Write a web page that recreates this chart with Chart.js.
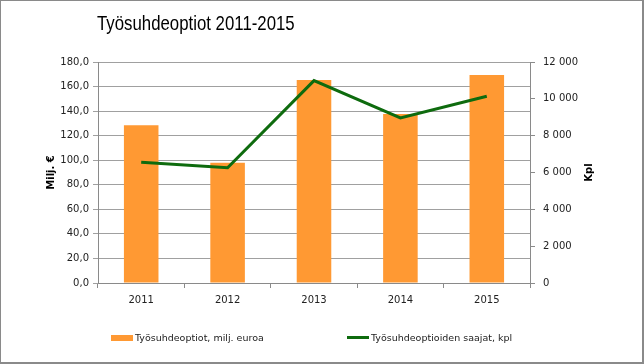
<!DOCTYPE html>
<html><head><meta charset="utf-8">
<script src="https://cdn.jsdelivr.net/npm/chart.js@4"></script>
<style>
html,body{margin:0;padding:0;background:#fff;}
#wrap{position:relative;width:644px;height:364px;overflow:hidden;}
#frame{position:absolute;left:0;top:0;width:644px;height:364px;box-sizing:border-box;border:1px solid #8a8a8a;border-right-width:2px;border-bottom-width:2px;pointer-events:none;}
#title{position:absolute;left:97px;top:11px;font-family:"Liberation Sans",sans-serif;font-size:21px;color:#000;white-space:nowrap;transform:scaleX(0.8);transform-origin:0 0;}
#legend{position:absolute;left:0;top:332px;width:644px;height:14px;font-family:"DejaVu Sans",sans-serif;font-size:9.5px;color:#222;}
.li{position:absolute;top:0;display:flex;align-items:center;white-space:nowrap;}
.sw{display:inline-block;width:22px;margin-right:2px;}
</style></head>
<body>
<div id="wrap">
<canvas id="c" width="644" height="364"></canvas>
<div id="title"></div>
<div id="legend"></div>
<div id="frame"></div>
</div>
<script>
const titleText = "Työsuhdeoptiot 2011-2015";
const categories = ["2011","2012","2013","2014","2015"];
const optionValues = [128.4, 98.0, 165.3, 137.6, 169.4];
const recipients = [6550, 6260, 10990, 8960, 10140];
const seriesNames = ["Työsuhdeoptiot, milj. euroa","Työsuhdeoptioiden saajat, kpl"];
const axisTitles = ["Milj. €","Kpl"];
const barColor = "#FF9933";
const lineColor = "#0E6B0E";

document.getElementById('title').textContent = titleText;

const axisTitlePlugin = {
  id:'axisTitles',
  afterDraw(chart){
    const ctx = chart.ctx, ca = chart.chartArea;
    ctx.save();
    ctx.font = 'bold 10px "DejaVu Sans", sans-serif';
    ctx.fillStyle = '#000';
    ctx.textAlign = 'center';
    ctx.textBaseline = 'middle';
    const cy = (ca.top + ca.bottom)/2;
    [[ca.left - 47, axisTitles[0]],[ca.right + 59, axisTitles[1]]].forEach(([x,t])=>{
      ctx.save(); ctx.translate(x, cy); ctx.rotate(-Math.PI/2); ctx.fillText(t,0,0); ctx.restore();
    });
    ctx.restore();
  }
};

const tickFont = {family:'"DejaVu Sans", sans-serif', size:10};
const chart = new Chart(document.getElementById('c'), {
  data:{
    labels: categories,
    datasets:[
      {type:'bar', label:seriesNames[0], data:optionValues, backgroundColor:barColor, borderWidth:0,
       yAxisID:'y', order:2, categoryPercentage:1, barPercentage:0.4},
      {type:'line', label:seriesNames[1], data:recipients, borderColor:lineColor, backgroundColor:lineColor,
       borderWidth:3, pointRadius:0, tension:0, yAxisID:'y1', order:1}
    ]
  },
  options:{
    responsive:false, animation:false,
    layout:{padding:{top:62,left:0,right:0,bottom:51}},
    plugins:{legend:{display:false}, title:{display:false}, tooltip:{enabled:false}},
    scales:{
      x:{
        grid:{offset:true, drawOnChartArea:false, drawTicks:true, tickLength:5, color:'#8a8a8a'},
        border:{display:true, color:'#8a8a8a'},
        ticks:{font:tickFont, color:'#222', padding:6},
        afterFit(s){ s.height = 30; }
      },
      y:{
        position:'left', min:0, max:180,
        ticks:{stepSize:20, font:tickFont, color:'#222', padding:4,
               callback:v=>v.toFixed(1).replace('.',',')},
        grid:{color:'#a0a0a0', tickLength:5, drawTicks:true},
        border:{display:true, color:'#8a8a8a'},
        afterFit(s){ s.width = 98; }
      },
      y1:{
        position:'right', min:0, max:12000,
        ticks:{stepSize:2000, font:tickFont, color:'#222', padding:8,
               callback:v=>String(v).replace(/\B(?=(\d{3})+(?!\d))/g,' ')},
        grid:{drawOnChartArea:false, tickLength:5, drawTicks:true, color:'#8a8a8a'},
        border:{display:true, color:'#8a8a8a'},
        afterFit(s){ s.width = 114; }
      }
    }
  },
  plugins:[axisTitlePlugin]
});

const leg = document.getElementById('legend');
const lefts = [111, 347];
chart.data.datasets.forEach((ds,i)=>{
  const d = document.createElement('div'); d.className='li'; d.style.left = lefts[i]+'px';
  const sw = document.createElement('span'); sw.className='sw';
  sw.style.height = (ds.type==='bar'?6:3)+'px';
  sw.style.background = ds.type==='bar'?ds.backgroundColor:ds.borderColor;
  const t = document.createElement('span'); t.textContent = ds.label;
  d.appendChild(sw); d.appendChild(t); leg.appendChild(d);
});
</script>
</body></html>
